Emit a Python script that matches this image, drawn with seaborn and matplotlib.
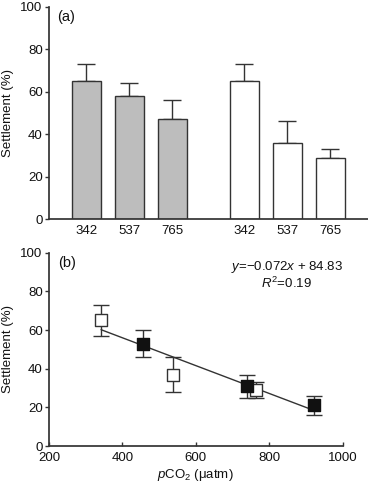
import numpy as np
import pandas as pd
import seaborn as sns
import matplotlib.pyplot as plt

# panel (a) data
pco2_labels = ["342", "537", "765", "342", "537", "765"]
grey_vals = [65, 58, 47]
grey_err = [8, 6, 9]
white_vals = [65, 36, 29]
white_err = [8, 10, 4]

# panel (b) data
open_x = [342, 537, 765]
open_y = [65, 37, 29]
open_err = [8, 9, 4]
filled_x = [457, 740, 921]
filled_y = [53, 31, 21]
filled_err = [7, 6, 5]
slope, intercept = -0.072, 84.83
fit_x = [342, 921]

sns.set_theme(style="ticks")
plt.rcParams['font.family'] = ['Liberation Sans', 'DejaVu Sans']
plt.rcParams['mathtext.fontset'] = 'custom'
plt.rcParams['mathtext.it'] = 'Liberation Sans:italic'
plt.rcParams['mathtext.rm'] = 'Liberation Sans'
dark = '#333333'
plt.rcParams.update({'axes.edgecolor': dark, 'xtick.color': dark, 'ytick.color': dark,
                     'text.color': '#111111', 'axes.labelcolor': '#111111',
                     'xtick.labelcolor': '#111111', 'ytick.labelcolor': '#111111'})

fs = 9.5
fig = plt.figure(figsize=(3.68, 4.87), dpi=100)
ax1 = fig.add_axes([0.133, 0.550, 0.867, 0.436])
ax2 = fig.add_axes([0.133, 0.084, 0.798, 0.397])

# bar positions (in bar-spacing units)
pos_grey = [0, 1, 2]
pos_white = [3.67, 4.67, 5.67]

sns.barplot(x=pos_grey, y=grey_vals, native_scale=True, width=0.67, color='#bdbdbd',
            edgecolor=dark, linewidth=1, ax=ax1, saturation=1)
sns.barplot(x=pos_white, y=white_vals, native_scale=True, width=0.67, color='white',
            edgecolor=dark, linewidth=1, ax=ax1, saturation=1)
ax1.errorbar(pos_grey + pos_white, grey_vals + white_vals,
             yerr=[np.zeros(6), grey_err + white_err], fmt='none',
             ecolor=dark, elinewidth=1, capsize=6.5, capthick=1, zorder=0)
ax1.set_xlim(-0.87, 6.55)
ax1.set_ylim(0, 100)
ax1.set_yticks([0, 20, 40, 60, 80, 100])
ax1.set_xticks(pos_grey + pos_white)
ax1.set_xticklabels(pco2_labels)
ax1.tick_params(axis='x', length=0, labelsize=fs, pad=4.5)
ax1.tick_params(axis='y', length=3, width=1, labelsize=fs, pad=1.5)
ax1.set_ylabel('Settlement (%)', fontsize=fs)
ax1.yaxis.set_label_coords(-0.108, 0.5)
ax1.text(0.025, 0.985, '(a)', transform=ax1.transAxes, fontsize=10.5, va='top')
sns.despine(ax=ax1)

# panel (b)
fit_df = pd.DataFrame({'x': fit_x, 'y': [slope * v + intercept for v in fit_x]})
sns.lineplot(data=fit_df, x='x', y='y', color=dark, linewidth=1, ax=ax2)
ax2.errorbar(open_x, open_y, yerr=open_err, fmt='none', ecolor=dark,
             elinewidth=1, capsize=6, capthick=1)
ax2.errorbar(filled_x, filled_y, yerr=filled_err, fmt='none', ecolor=dark,
             elinewidth=1, capsize=6, capthick=1)
sns.scatterplot(x=open_x, y=open_y, marker='s', s=80, color='white',
                edgecolor=dark, linewidth=1, ax=ax2, zorder=3)
sns.scatterplot(x=filled_x, y=filled_y, marker='s', s=80, color='#111111',
                edgecolor='#111111', linewidth=1, ax=ax2, zorder=3)
ax2.set_xlim(200, 1000)
ax2.set_ylim(0, 100)
ax2.set_xticks([200, 400, 600, 800, 1000])
ax2.set_yticks([0, 20, 40, 60, 80, 100])
ax2.tick_params(axis='x', direction='in', length=3, width=1, labelsize=fs, pad=4)
ax2.tick_params(axis='y', length=3, width=1, labelsize=fs, pad=1.5)
ax2.set_ylabel('Settlement (%)', fontsize=fs)
ax2.yaxis.set_label_coords(-0.118, 0.5)
ax2.set_xlabel(r'$p$CO$_2$ (μatm)', fontsize=fs)
ax2.xaxis.set_label_coords(0.5, -0.11)
ax2.text(0.03, 0.985, '(b)', transform=ax2.transAxes, fontsize=10.5, va='top')
ax2.text(0.81, 0.925, r'$y$=−0.072$x$ + 84.83', transform=ax2.transAxes,
         fontsize=fs, ha='center', va='center')
ax2.text(0.81, 0.84, r'$R^2$=0.19', transform=ax2.transAxes,
         fontsize=fs, ha='center', va='center')
sns.despine(ax=ax2)

fig.savefig('out.png', dpi=100)
